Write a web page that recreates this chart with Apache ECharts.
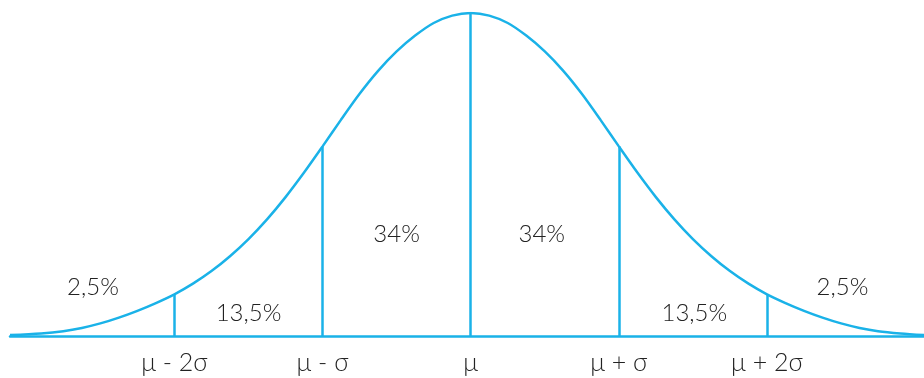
<!DOCTYPE html>
<html>
<head>
<meta charset="utf-8">
<script src="https://cdn.jsdelivr.net/npm/echarts@6/dist/echarts.min.js"></script>
<style>
  html, body { margin: 0; padding: 0; background: #fff; }
  #main { width: 924px; height: 378px; }
</style>
</head>
<body>
<div id="main"></div>
<script>
// curve: x in sigma units, height as % of the peak
const curveX = [-3.11, -2.9, -2.75, -2.625, -2.5, -2.375, -2.25, -2.125, -2, -1.875, -1.75, -1.625,
  -1.5, -1.375, -1.25, -1.125, -1, -0.875, -0.75, -0.625, -0.5, -0.375, -0.25, -0.125, 0,
  0.125, 0.25, 0.375, 0.5, 0.625, 0.75, 0.875, 1, 1.125, 1.25, 1.375, 1.5,
  1.625, 1.75, 1.875, 2, 2.125, 2.25, 2.375, 2.5, 2.625, 2.75, 2.9, 3.06];
const curveY = [0.3, 0.8, 1.5, 2.5, 3.9, 5.7, 7.8, 10.2, 12.9, 16.2, 20.1, 24.7,
  30, 36.1, 43, 50.6, 58.7, 67, 75, 82.1, 88.1, 93, 96.9, 99.2, 100,
  99.2, 96.9, 93, 88.1, 82.1, 75, 67, 58.7, 50.6, 43, 36.1, 30,
  24.7, 20.1, 16.2, 12.9, 10.2, 7.8, 5.7, 3.9, 2.5, 1.5, 0.8, 0.3];

const tickValues = [-2, -1, 0, 1, 2];
const tickLabels = ['μ - 2σ', 'μ - σ', 'μ', 'μ + σ', 'μ + 2σ'];

const shareLabels = ['2,5%', '13,5%', '34%', '34%', '13,5%', '2,5%'];
const shareX = [-2.55, -1.5, -0.5, 0.48, 1.51, 2.51];
const shareY = [15.2, 7, 31.5, 31.5, 7, 15.2];

const blue = '#1ab2e8';
const dom = document.getElementById('main');
const chart = echarts.init(dom);

function heightAt(x) {
  return curveY[curveX.indexOf(x)];
}

chart.setOption({
  animation: false,
  textStyle: { fontFamily: 'Lato' },
  grid: { left: 10, right: 0, top: 13, bottom: 42 },
  xAxis: {
    type: 'value',
    min: -3.11,
    max: 3.06,
    splitLine: { show: false },
    axisTick: { show: false },
    axisLine: { onZero: false, lineStyle: { color: blue, width: 2.5 } },
    axisLabel: {
      customValues: tickValues,
      formatter: (v) => tickLabels[tickValues.indexOf(v)],
      color: '#222',
      fontSize: 25,
      fontWeight: 300,
      margin: 14,
      showMinLabel: true,
      showMaxLabel: true,
    },
  },
  yAxis: {
    type: 'value',
    min: 0,
    max: 100,
    show: false,
  },
  series: [
    {
      type: 'line',
      data: curveX.map((x, i) => [x, curveY[i]]),
      smooth: 0.3,
      symbol: 'none',
      lineStyle: { color: blue, width: 2.5 },
      markLine: {
        silent: true,
        symbol: 'none',
        label: { show: false },
        lineStyle: { color: blue, width: 2.5, type: 'solid' },
        data: tickValues.map((x) => [
          { coord: [x, 0] },
          { coord: [x, heightAt(x)] },
        ]),
      },
      markPoint: {
        silent: true,
        symbol: 'circle',
        symbolSize: 1,
        itemStyle: { color: 'rgba(0,0,0,0)' },
        label: {
          show: true,
          position: 'inside',
          color: '#222',
          fontSize: 24,
          fontWeight: 300,
          fontFamily: 'Lato',
          formatter: (p) => p.name,
        },
        data: shareLabels.map((t, i) => ({
          name: t,
          coord: [shareX[i], shareY[i]],
        })),
      },
    },
  ],
});
</script>
</body>
</html>
